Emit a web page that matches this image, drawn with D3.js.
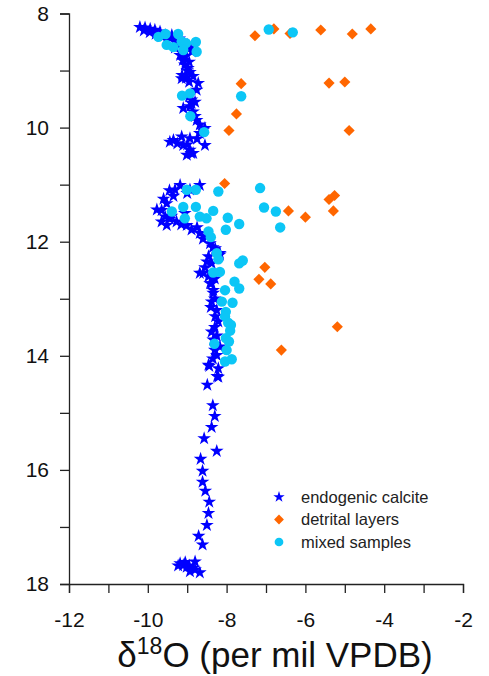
<!DOCTYPE html>
<html>
<head>
<meta charset="utf-8">
<script src="https://cdn.jsdelivr.net/npm/d3@7"></script>
<style>
  body { margin: 0; background: #fff; }
  svg { display: block; font-family: Arial, "Liberation Sans", sans-serif; }
</style>
</head>
<body>
<div id="chart"></div>
<script>
// endogenic calcite: d18O and depth
var calciteX = [-10.20,-10.07,-9.94,-9.82,-9.69,-9.56,-9.44,-9.39,-9.31,-9.23,-9.13,-9.06,-8.93,-8.88,-9.31,-9.18,-9.11,-9.06,-8.98,-8.93,-9.13,-9.03,-8.95,-9.14,-8.72,-8.76,-8.89,-8.93,-9.10,-8.89,-8.85,-8.76,-8.68,-8.55,-8.68,-8.93,-9.14,-9.35,-9.44,-9.10,-8.93,-8.85,-8.55,-9.01,
  -10.10,-9.95,-9.80,-9.65,-9.50,-9.20,-9.00,-9.05,-8.95,-9.00,-8.85,-8.95,-8.80,-8.80,-8.60,-8.75,-9.00,-9.25,-8.90,
  -9.31,-9.18,-8.68,-8.93,-9.77,-9.52,-9.56,-9.52,-9.27,-9.01,-8.89,-8.68,-8.51,-8.42,-8.29,-8.17,-8.46,-8.38,-8.59,-8.46,-8.38,-8.34,-8.17,-8.42,-8.34,-8.38,-8.25,-8.29,-8.21,-8.38,-8.34,-8.17,-8.25,-8.46,-8.21,-8.21,-8.68,-9.35,-9.44,-9.06,
  -9.45,-9.00,-9.60,-9.65,-9.40,-9.65,-9.15,-8.75,-8.60,-8.35,-8.50,-8.55,-8.30,-8.30,-8.40,-8.30,-8.25,-8.30,-8.35,
  -8.44,-8.24,-8.49,-8.35,-8.30,-8.38,-8.57,-8.25,-8.66,-8.61,-8.61,-8.54,-8.44,-8.46,-8.50,-8.71,-8.61,
  -9.18,-9.10,-9.01,-8.85,-8.80,-8.93,-8.68,-9.23,-9.05,-8.95,-8.80];
var calciteY = [8.24,8.25,8.27,8.29,8.32,8.38,8.43,8.38,8.46,8.52,8.59,8.64,8.60,8.67,8.60,8.73,8.82,8.90,8.96,9.03,9.08,9.13,9.20,9.14,9.22,9.34,9.51,9.63,9.66,9.57,9.72,9.87,9.95,10.01,10.10,10.19,10.16,10.22,10.25,10.31,10.39,10.45,10.31,10.48,
  8.30,8.33,8.36,8.40,8.47,8.44,8.55,8.75,8.85,9.00,9.10,9.45,9.55,9.80,10.05,10.20,10.30,10.28,10.45,
  11.09,11.01,11.01,11.09,11.44,11.33,11.56,11.71,11.65,11.71,11.79,11.85,11.91,12.03,12.12,12.20,12.26,12.38,12.55,12.61,12.73,12.85,12.23,12.73,12.90,13.05,13.20,13.31,13.40,13.58,13.72,13.84,13.99,14.16,14.22,14.37,12.55,11.20,11.60,11.50,
  11.10,11.15,11.25,11.45,11.55,11.65,11.70,11.75,11.95,12.10,12.35,12.45,12.65,13.00,13.15,13.50,13.65,13.90,14.05,
  14.18,14.36,14.51,14.87,15.06,15.25,15.45,15.67,15.81,16.02,16.21,16.37,16.56,16.76,16.97,17.16,17.31,
  17.64,17.67,17.70,17.72,17.61,17.78,17.80,17.68,17.62,17.68,17.75];

// detrital layers
var detritalX = [-7.28,-6.80,-6.39,-5.61,-4.81,-4.34,-7.63,-5.40,-5.00,-7.75,-7.94,-4.89,
  -8.05,-6.43,-6.00,-5.40,-5.26,-5.29,-7.03,-7.18,-6.88,-5.19,-6.61];
var detritalY = [8.39,8.27,8.35,8.29,8.36,8.27,9.23,9.22,9.20,9.76,10.05,10.05,
  10.98,11.46,11.57,11.26,11.19,11.46,12.45,12.66,12.74,13.49,13.90];

// mixed samples
var mixedX = [-6.93,-6.32,-7.63,-9.73,-9.55,-9.52,-9.23,-9.35,-9.14,-9.03,-9.10,-8.78,-8.76,-9.13,-8.93,-8.92,-8.57,
  -9.01,-8.78,-8.21,-7.15,-9.39,-9.10,-8.78,-9.06,-8.34,-8.68,-8.51,-7.97,-7.68,-8.02,-7.05,-6.75,-6.64,-8.46,-8.40,-8.25,-8.21,-7.59,-7.68,-8.17,-8.34,-7.80,-7.68,-8.04,
  -8.12,-7.85,-8.02,-8.04,-7.96,-7.89,-7.91,-8.02,-7.94,-8.31,-8.00,-7.87,-8.04];
var mixedY = [8.28,8.33,9.45,8.41,8.36,8.55,8.36,8.59,8.49,8.52,8.64,8.50,8.67,9.44,9.40,9.80,10.08,
  11.09,11.09,11.12,11.06,11.47,11.39,11.39,11.59,11.46,11.56,11.59,11.58,11.69,11.79,11.40,11.47,11.75,11.82,11.92,12.20,12.31,12.33,12.38,12.53,12.54,12.70,12.82,12.85,
  13.05,13.07,13.23,13.31,13.42,13.46,13.56,13.69,13.75,13.79,13.90,14.06,14.10];

var xTicks = d3.range(-12, -1, 1);
var yTicks = d3.range(8, 19, 1);
var legendLabels = ["endogenic calcite", "detrital layers", "mixed samples"];

var width = 489, height = 676;
var colors = ["#0000ff", "#ff6600", "#0cc6f6"];

var svg = d3.select("#chart").append("svg")
    .attr("width", width)
    .attr("height", height);

var x = d3.scaleLinear().domain([-12, -2]).range([69, 463]);
var y = d3.scaleLinear().domain([8, 18]).range([13.5, 584]);

var yAxis = svg.append("g")
    .attr("transform", "translate(69,0)")
    .call(d3.axisLeft(y).tickValues(yTicks).tickSize(9).tickPadding(11)
        .tickFormat(function (d) { return d % 2 === 0 ? String(d) : ""; }));

var xAxis = svg.append("g")
    .attr("transform", "translate(0,584)")
    .call(d3.axisBottom(x).tickValues(xTicks).tickSize(9).tickPadding(19)
        .tickFormat(function (d) { return d % 2 === 0 ? String(d) : ""; }));

[xAxis, yAxis].forEach(function (ax) {
    ax.select(".domain").attr("stroke", "#222").attr("stroke-width", 1.3);
    ax.selectAll(".tick line").attr("stroke", "#222").attr("stroke-width", 1.3);
    ax.selectAll(".tick text").attr("fill", "#111").style("font-size", "21px")
        .style("font-family", "Arial, 'Liberation Sans', sans-serif");
});

var star = d3.symbol().type(d3.symbolStar).size(58);
var diamond = d3.symbol().type(d3.symbolSquare).size(62);

svg.append("g").selectAll("path")
    .data(calciteX.map(function (v, i) { return [v, calciteY[i]]; }))
    .enter().append("path")
    .attr("d", star)
    .attr("transform", function (d) { return "translate(" + x(d[0]) + "," + y(d[1]) + ")"; })
    .attr("fill", colors[0]);

svg.append("g").selectAll("path")
    .data(detritalX.map(function (v, i) { return [v, detritalY[i]]; }))
    .enter().append("path")
    .attr("d", diamond)
    .attr("transform", function (d) { return "translate(" + x(d[0]) + "," + y(d[1]) + ") rotate(45)"; })
    .attr("fill", colors[1]);

svg.append("g").selectAll("circle")
    .data(mixedX.map(function (v, i) { return [v, mixedY[i]]; }))
    .enter().append("circle")
    .attr("cx", function (d) { return x(d[0]); })
    .attr("cy", function (d) { return y(d[1]); })
    .attr("r", 5.2)
    .attr("fill", colors[2]);

// legend
var legend = svg.append("g").attr("transform", "translate(279,497)");
var rows = legend.selectAll("g")
    .data(legendLabels)
    .enter().append("g")
    .attr("transform", function (d, i) { return "translate(0," + i * 22.5 + ")"; });

rows.append("path")
    .attr("d", function (d, i) {
        if (i === 0) return d3.symbol().type(d3.symbolStar).size(40)();
        if (i === 1) return d3.symbol().type(d3.symbolSquare).size(48)();
        return d3.symbol().type(d3.symbolCircle).size(60)();
    })
    .attr("transform", function (d, i) { return i === 1 ? "rotate(45)" : null; })
    .attr("fill", function (d, i) { return colors[i]; });

rows.append("text")
    .attr("x", 22)
    .attr("dy", "0.35em")
    .style("font-size", "16.5px")
    .attr("fill", "#222")
    .text(function (d) { return d; });

// axis title
var title = svg.append("text")
    .attr("x", 275)
    .attr("y", 667)
    .attr("text-anchor", "middle")
    .style("font-size", "35px")
    .attr("fill", "#111");
title.append("tspan").text("\u03b4");
title.append("tspan").attr("dy", -13).style("font-size", "23px").text("18");
title.append("tspan").attr("dy", 13).text("O (per mil VPDB)");
</script>
</body>
</html>
